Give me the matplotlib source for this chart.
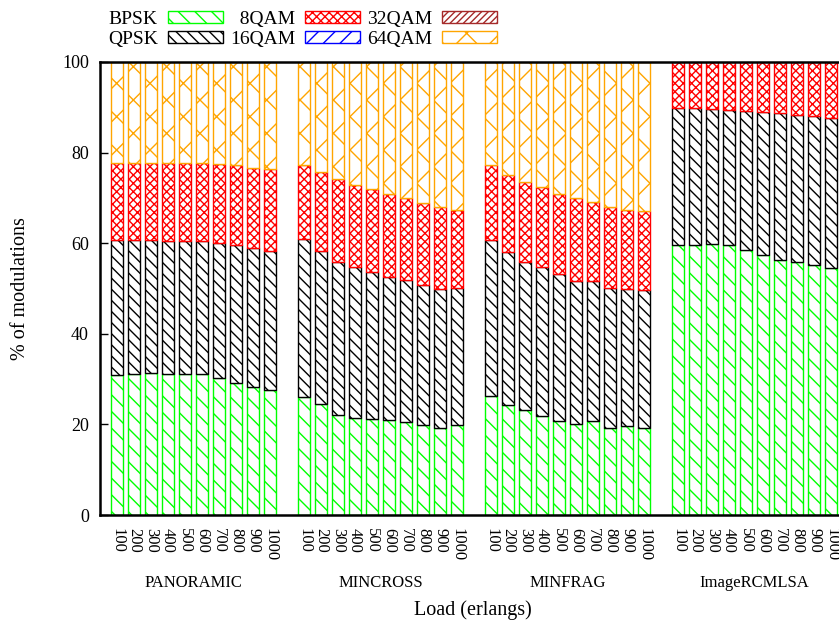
import numpy as np
import matplotlib
matplotlib.use('Agg')
import matplotlib.pyplot as plt
from matplotlib.patches import Patch

plt.rcParams['font.family'] = ['Liberation Serif', 'DejaVu Serif']
plt.rcParams['hatch.linewidth'] = 1.0

# Data (percent of each modulation per load)
groups = ['PANORAMIC', 'MINCROSS', 'MINFRAG', 'ImageRCMLSA']
loads = ['100', '200', '300', '400', '500', '600', '700', '800', '900', '1000']
modulations = ['BPSK', 'QPSK', '\u20078QAM', '16QAM', '32QAM', '64QAM']

bpsk = [31.0, 31.1, 31.4, 31.2, 31.2, 31.1, 30.3, 29.2, 28.3, 27.7,
        26.1, 24.4, 22.1, 21.5, 21.3, 20.9, 20.6, 19.8, 19.2, 19.8,
        26.3, 24.3, 23.1, 21.9, 20.8, 20.0, 20.8, 19.2, 19.6, 19.3,
        59.5, 59.7, 59.8, 59.5, 58.5, 57.4, 56.4, 55.9, 55.1, 54.6]
qpsk = [29.6, 29.6, 29.2, 29.3, 29.3, 29.4, 29.8, 30.3, 30.7, 30.5,
        34.8, 33.8, 33.7, 33.2, 32.3, 31.7, 31.2, 30.9, 30.7, 30.3,
        34.3, 33.7, 32.7, 32.8, 32.3, 31.7, 30.9, 30.9, 30.3, 30.3,
        30.4, 30.2, 29.9, 30.0, 30.7, 31.5, 32.3, 32.4, 32.9, 33.1]
qam8 = [17.1, 17.0, 17.1, 17.2, 17.2, 17.1, 17.3, 17.7, 17.7, 18.2,
        16.3, 17.6, 18.4, 18.2, 18.3, 18.3, 18.2, 18.2, 18.2, 17.2,
        16.6, 17.0, 17.6, 17.8, 17.8, 18.2, 17.4, 17.9, 17.4, 17.4,
        10.1, 10.1, 10.3, 10.5, 10.8, 11.1, 11.3, 11.7, 12.0, 12.3]
qam16 = [0.0] * 40
qam32 = [0.0] * 40
qam64 = [22.3, 22.3, 22.3, 22.3, 22.3, 22.4, 22.6, 22.8, 23.3, 23.6,
         22.8, 24.2, 25.8, 27.1, 28.1, 29.1, 30.0, 31.1, 31.9, 32.7,
         22.8, 25.0, 26.6, 27.5, 29.1, 30.1, 30.9, 32.0, 32.7, 33.0,
         0.0, 0.0, 0.0, 0.0, 0.0, 0.0, 0.0, 0.0, 0.0, 0.0]

series = [bpsk, qpsk, qam8, qam16, qam32, qam64]
colors = ['#00ff00', '#000000', '#ff0000', '#0000ff', '#a52a2a', '#ffa500']
hatches = ['\\\\', '\\\\\\', 'xxxx', '//', '/////', 'x']

# x positions: 10 bars per group, one empty slot between groups
n = len(loads)
xpos = np.array([g * (n + 1) + i for g in range(len(groups)) for i in range(n)])

fig = plt.figure(figsize=(8.39, 6.21), dpi=100)
ax = fig.add_axes([100 / 839, 106 / 621, 739 / 839, 453 / 621])

bottom = np.zeros(len(xpos))
for vals, col, hat in zip(series, colors, hatches):
    vals = np.array(vals)
    lw = np.where(vals > 0, 1.0, 0.0)
    ax.bar(xpos, vals, width=0.7, bottom=bottom, facecolor='white',
           edgecolor=col, hatch=hat, linewidth=lw)
    bottom += vals

ax.set_xlim(-1.0, 42.47)
ax.set_ylim(0, 100)
ax.set_yticks(np.arange(0, 101, 20))
ax.set_xticks(xpos)
ax.set_xticklabels(loads * len(groups), rotation=-90, fontsize=12)
ax.tick_params(axis='x', length=0, pad=9)
ax.tick_params(axis='y', direction='in', length=6, width=1, labelsize=13, pad=8)
for s in ['left', 'bottom', 'top']:
    ax.spines[s].set_linewidth(1.8)
ax.spines['right'].set_visible(False)

for g, name in enumerate(groups):
    ax.text(g * (n + 1) + (n - 1) / 2, -0.150, name, fontsize=12,
            ha='center', va='center',
            transform=ax.get_xaxis_transform())

ax.set_xlabel('Load (erlangs)', fontsize=14.5)
ax.xaxis.set_label_coords(0.505, -0.189)
ax.set_ylabel('% of modulations', fontsize=14.5)
ax.yaxis.set_label_coords(-0.095, 0.5)

handles = [Patch(facecolor='white', edgecolor=c, hatch=h, linewidth=1.0)
           for c, h in zip(colors, hatches)]
fig.legend(handles, modulations, ncol=3, loc='upper left',
           bbox_to_anchor=(108 / 839, 1 - 11 / 621), frameon=False,
           markerfirst=False, fontsize=14, handlelength=2.85,
           handleheight=0.55, columnspacing=0.35, handletextpad=0.5,
           labelspacing=0.15, borderpad=0.0, borderaxespad=0.0)

fig.savefig('out.png', dpi=100)
